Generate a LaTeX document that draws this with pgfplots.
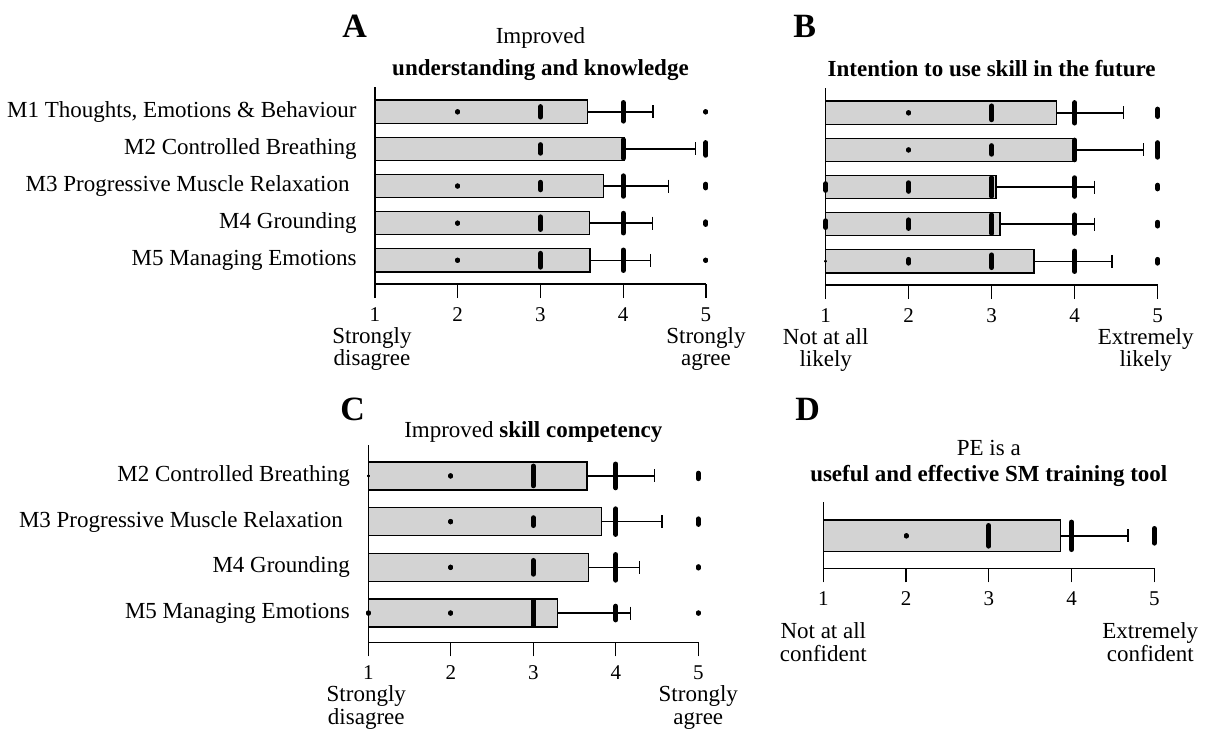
\documentclass[border=0pt]{standalone}
\usepackage{fontspec}
\setmainfont{Liberation Serif}
\usepackage{pgfplots}
\usepackage{pgfplotstable}
\pgfplotsset{compat=1.18}
\definecolor{barfill}{HTML}{D3D3D3}
\newcommand{\lbl}{\fontsize{11.5}{11.3}\selectfont}
\newcommand{\tck}{\fontsize{10.5}{11}\selectfont}
\newcommand{\pl}{\fontsize{17}{17}\selectfont\bfseries}

% bars: y position, mean, upper whisker end
\pgfplotstableread{
y m e
5 3.57 4.36
4 4.01 4.87
3 3.76 4.55
2 3.59 4.35
1 3.60 4.33
}\barsA
\pgfplotstableread{
y m e
5 3.78 4.59
4 4.01 4.83
3 3.05 4.24
2 3.10 4.24
1 3.51 4.45
}\barsB
\pgfplotstableread{
y m e
4 3.65 4.47
3 3.83 4.56
2 3.67 4.29
1 3.29 4.18
}\barsC
\pgfplotstableread{
y m e
1 3.87 4.68
}\barsD
% response marks: x value, y position, half length
\pgfplotstableread{
x y h
2 5 0.005
3 5 0.14
4 5 0.25
5 5 0.005
3 4 0.115
4 4 0.25
5 4 0.17
2 3 0.005
3 3 0.1
4 3 0.275
5 3 0.05
2 2 0.005
3 2 0.17
4 2 0.265
5 2 0.035
2 1 0.005
3 1 0.185
4 1 0.275
5 1 0.005
}\dashA
\pgfplotstableread{
x y h
1 5 0.005
1 4 0.005
1 3 0.005
1 2 0.005
}\tinyA
\pgfplotstableread{
x y h
2 5 0.005
3 5 0.185
4 5 0.275
5 5 0.1
2 4 0.005
3 4 0.115
4 4 0.265
5 4 0.195
1 3 0.09
2 3 0.115
3 3 0.25
4 3 0.25
5 3 0.05
1 2 0.09
2 2 0.115
3 2 0.25
4 2 0.25
5 2 0.05
2 1 0.05
3 1 0.17
4 1 0.275
5 1 0.05
}\dashB
\pgfplotstableread{
x y h
1 1 0.005
}\tinyB
\pgfplotstableread{
x y h
2 4 0.005
3 4 0.215
4 4 0.26
5 4 0.06
2 3 0.005
3 3 0.085
4 3 0.28
5 3 0.06
2 2 0.005
3 2 0.15
4 2 0.28
5 2 0.015
1 1 0.005
2 1 0.005
3 1 0.27
4 1 0.15
5 1 0.005
}\dashC
\pgfplotstableread{
x y h
1 4 0.005
}\tinyC
\pgfplotstableread{
x y h
2 1 0.005
3 1 0.225
4 1 0.3
5 1 0.16
}\dashD

\pgfplotsset{
  panel/.style={
    scale only axis,
    anchor=south west,
    xmin=0, xmax=4,
    axis lines*=left,
    axis line style={-, line width=0.65pt, black},
    clip=false,
    xtick={0,1,2,3,4},
    xticklabels={1,2,3,4,5},
    tick align=outside,
    major tick length=7pt,
    xtick style={line width=0.65pt, black},
    ytick style={draw=none},
    xticklabel style={font=\tck, inner sep=0pt, anchor=north, yshift=-4.5pt},
    yticklabel style={font=\lbl, inner sep=0pt, anchor=east, xshift=-2pt},
  },
  bars/.style={xbar, bar width=#1, fill=barfill, draw=black, line width=0.65pt,
    error bars/.cd, x dir=plus, x explicit, error mark=|,
    error bar style={line width=0.7pt, draw=black},
    error mark options={black, line width=0.7pt, mark size=3.25pt}},
  dashes/.style={draw=none, no markers,
    error bars/.cd, y dir=both, y explicit, error mark=none,
    error bar style={line width=#1, line cap=round, draw=black}},
}

\begin{document}
\begin{tikzpicture}
\useasboundingbox (0,0) rectangle (605.5pt,368pt);

% ---------------- A ----------------
\begin{axis}[panel, at={(187.5pt,226pt)}, width=165.5pt, height=98.7pt,
  ymin=0.36, ymax=5.68, ytick={1,2,3,4,5},
  yticklabels={M5 Managing Emotions, M4 Grounding, M3 Progressive Muscle Relaxation\hspace*{3.5pt}, M2 Controlled Breathing, {M1 Thoughts, Emotions \& Behaviour}}]
\addplot[bars=0.63] table[x expr=\thisrow{m}-1, y=y, x error expr=\thisrow{e}-\thisrow{m}] \barsA;
\addplot[dashes=2.5pt] table[x expr=\thisrow{x}-1, y=y, y error=h] \dashA;
\addplot[dashes=1.4pt] table[x expr=\thisrow{x}-1, y=y, y error=h] \tinyA;
\node[anchor=base, font=\lbl] at (axis description cs:0.5,1) [yshift=21.5pt] {Improved};
\node[anchor=base, font=\lbl\bfseries] at (axis description cs:0.5,1) [yshift=5.5pt] {understanding and knowledge};
\node[anchor=north, inner sep=0pt, align=center, font=\lbl] at (axis description cs:0,0) [yshift=-21.5pt, xshift=-1.5pt] {Strongly\\disagree};
\node[anchor=north, inner sep=0pt, align=center, font=\lbl] at (axis description cs:1,0) [yshift=-21.5pt] {Strongly\\agree};
\end{axis}

% ---------------- B ----------------
\begin{axis}[panel, at={(412.85pt,225.5pt)}, width=166pt, height=98.7pt,
  ymin=0.36, ymax=5.68, ytick={1,2,3,4,5}, yticklabels={}]
\addplot[bars=0.63] table[x expr=\thisrow{m}-1, y=y, x error expr=\thisrow{e}-\thisrow{m}] \barsB;
\addplot[dashes=2.5pt] table[x expr=\thisrow{x}-1, y=y, y error=h] \dashB;
\addplot[dashes=1.4pt] table[x expr=\thisrow{x}-1, y=y, y error=h] \tinyB;
\node[anchor=base, font=\lbl\bfseries] at (axis description cs:0.5,1) [yshift=5.5pt] {Intention to use skill in the future};
\node[anchor=north, inner sep=0pt, align=center, font=\lbl] at (axis description cs:0,0) [yshift=-21.5pt] {Not at all\\likely};
\node[anchor=north, inner sep=0pt, align=center, font=\lbl] at (axis description cs:1,0) [yshift=-21.5pt, xshift=-6pt] {Extremely\\likely};
\end{axis}

% ---------------- C ----------------
\begin{axis}[panel, at={(184.15pt,46.85pt)}, width=165pt, height=98.5pt,
  ymin=0.36, ymax=4.67, ytick={1,2,3,4},
  yticklabels={M5 Managing Emotions, M4 Grounding, M3 Progressive Muscle Relaxation\hspace*{3.5pt}, M2 Controlled Breathing}]
\addplot[bars=0.61] table[x expr=\thisrow{m}-1, y=y, x error expr=\thisrow{e}-\thisrow{m}] \barsC;
\addplot[dashes=2.5pt] table[x expr=\thisrow{x}-1, y=y, y error=h] \dashC;
\addplot[dashes=1.4pt] table[x expr=\thisrow{x}-1, y=y, y error=h] \tinyC;
\node[anchor=base, font=\lbl] at (axis description cs:0.5,1) [yshift=4pt] {Improved \textbf{skill competency}};
\node[anchor=north, inner sep=0pt, align=center, font=\lbl] at (axis description cs:0,0) [yshift=-21.5pt, xshift=-1pt] {Strongly\\disagree};
\node[anchor=north, inner sep=0pt, align=center, font=\lbl] at (axis description cs:1,0) [yshift=-21.5pt] {Strongly\\agree};
\end{axis}

% ---------------- D ----------------
\begin{axis}[panel, at={(411.65pt,83.85pt)}, width=165.5pt, height=33.4pt,
  ymin=0.29, ymax=1.75, ytick={1}, yticklabels={}]
\addplot[bars=0.69] table[x expr=\thisrow{m}-1, y=y, x error expr=\thisrow{e}-\thisrow{m}] \barsD;
\addplot[dashes=2.5pt] table[x expr=\thisrow{x}-1, y=y, y error=h] \dashD;
\node[anchor=base, font=\lbl] at (axis description cs:0.5,1) [yshift=23pt] {PE is a};
\node[anchor=base, font=\lbl\bfseries] at (axis description cs:0.5,1) [yshift=10pt] {useful and effective SM training tool};
\node[anchor=north, inner sep=0pt, align=center, font=\lbl] at (axis description cs:0,0) [yshift=-27pt] {Not at all\\confident};
\node[anchor=north, inner sep=0pt, align=center, font=\lbl] at (axis description cs:1,0) [yshift=-27pt, xshift=-2pt] {Extremely\\confident};
\end{axis}

% panel letters
\node[anchor=base west, inner sep=0pt, font=\pl] at (171pt,349.5pt) {A};
\node[anchor=base west, inner sep=0pt, font=\pl] at (396.5pt,349.5pt) {B};
\node[anchor=base west, inner sep=0pt, font=\pl] at (170pt,158pt) {C};
\node[anchor=base west, inner sep=0pt, font=\pl] at (397.5pt,158pt) {D};
\end{tikzpicture}
\end{document}
